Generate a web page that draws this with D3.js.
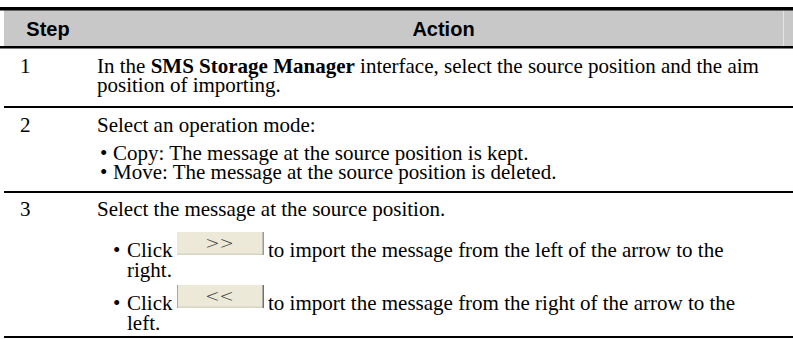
<!DOCTYPE html>
<html>
<head>
<meta charset="utf-8">
<script src="https://cdn.jsdelivr.net/npm/d3@7"></script>
<style>
  html, body { margin: 0; padding: 0; background: #fff; }
  svg { display: block; }
</style>
</head>
<body>
<div id="chart"></div>
<script>
// ---- content ----
const headers = ["Step", "Action"];
const steps = ["1", "2", "3"];
const row1Lines = [
  [{t: "In the "}, {t: "SMS Storage Manager", b: true}, {t: " interface, select the source position and the aim"}],
  [{t: "position of importing."}]
];
const row2Intro = "Select an operation mode:";
const row2Bullets = [
  "Copy: The message at the source position is kept.",
  "Move: The message at the source position is deleted."
];
const row3Intro = "Select the message at the source position.";
const row3Buttons = [">>", "<<"];
const row3After = [
  ["to import the message from the left of the arrow to the", "right."],
  ["to import the message from the right of the arrow to the", "left."]
];

// ---- layout ----
const W = 793, H = 339;
const serif = "'Liberation Serif', 'Times New Roman', serif";
const sans = "'Liberation Sans', Arial, sans-serif";
const fs = 21;

const svg = d3.select("#chart").append("svg").attr("width", W).attr("height", H);

const colSplit = 92;
const stepX = 20, textX = 97;

// header
svg.append("rect").attr("x", 4).attr("y", 10).attr("width", W - 4).attr("height", 36).attr("fill", "#c8c8c8");
svg.append("rect").attr("x", 783).attr("y", 10).attr("width", 1).attr("height", 36).attr("fill", "#e4e4e4");
svg.append("rect").attr("x", 0).attr("y", 7).attr("width", W).attr("height", 3.5).attr("fill", "#000");
svg.append("rect").attr("x", 0).attr("y", 46).attr("width", W).attr("height", 2.5).attr("fill", "#000");

svg.selectAll("text.hdr").data(headers).join("text")
  .attr("class", "hdr")
  .attr("x", (d, i) => i === 0 ? (4 + colSplit) / 2 : (colSplit + W) / 2 + 1)
  .attr("y", 36)
  .attr("text-anchor", "middle")
  .attr("font-family", sans).attr("font-weight", "bold").attr("font-size", 20)
  .text(d => d);

// row separators
const seps = [106, 191, 336];
svg.selectAll("rect.sep").data(seps).join("rect")
  .attr("class", "sep").attr("x", 4).attr("y", d => d).attr("width", W - 4).attr("height", 2).attr("fill", "#000");

// step numbers
const stepY = [73, 132, 216];
svg.selectAll("text.step").data(steps).join("text")
  .attr("class", "step").attr("x", stepX).attr("y", (d, i) => stepY[i])
  .attr("font-family", serif).attr("font-size", fs).text(d => d);

function addText(str, xx, yy) {
  return svg.append("text").attr("x", xx).attr("y", yy)
    .attr("font-family", serif).attr("font-size", fs).attr("fill", "#000").text(str);
}

// row 1
row1Lines.forEach((parts, i) => {
  const t = svg.append("text").attr("x", textX).attr("y", 73 + i * 19)
    .attr("font-family", serif).attr("font-size", fs);
  parts.forEach(p => t.append("tspan").attr("font-weight", p.b ? "bold" : "normal").text(p.t));
});

// row 2
addText(row2Intro, textX, 132);
row2Bullets.forEach((b, i) => {
  addText("\u2022", 100, 160 + i * 19);
  addText(b, 113, 160 + i * 19);
});

// row 3
addText(row3Intro, textX, 216);
const clickY = [257, 310];
row3Buttons.forEach((lab, i) => {
  const by = clickY[i];
  addText("\u2022", 113, by);
  addText("Click", 127, by);
  const bx = 177, bw = 87, bh = 23, top = by - 25;
  const g = svg.append("g");
  g.append("rect").attr("x", bx).attr("y", top).attr("width", bw).attr("height", bh).attr("fill", "#ece9d8");
  g.append("rect").attr("x", bx).attr("y", top + bh - 1.5).attr("width", bw).attr("height", 1.5).attr("fill", "#d8d4c4");
  g.append("rect").attr("x", bx + bw - 1.5).attr("y", top).attr("width", 1.5).attr("height", bh).attr("fill", i === 1 ? "#707070" : "#9a9a9a");
  if (i === 1) g.append("rect").attr("x", bx).attr("y", top).attr("width", 1).attr("height", bh).attr("fill", "#a8a8a8");
  g.append("text").attr("x", bx + bw / 2 - 1).attr("y", top + 17)
    .attr("text-anchor", "middle").attr("font-family", "'DejaVu Sans', sans-serif")
    .attr("font-weight", 300).attr("font-size", 17).attr("fill", "#333").text(lab);
  addText(row3After[i][0], 268, by);
  addText(row3After[i][1], 127, by + 20);
});
</script>
</body>
</html>
